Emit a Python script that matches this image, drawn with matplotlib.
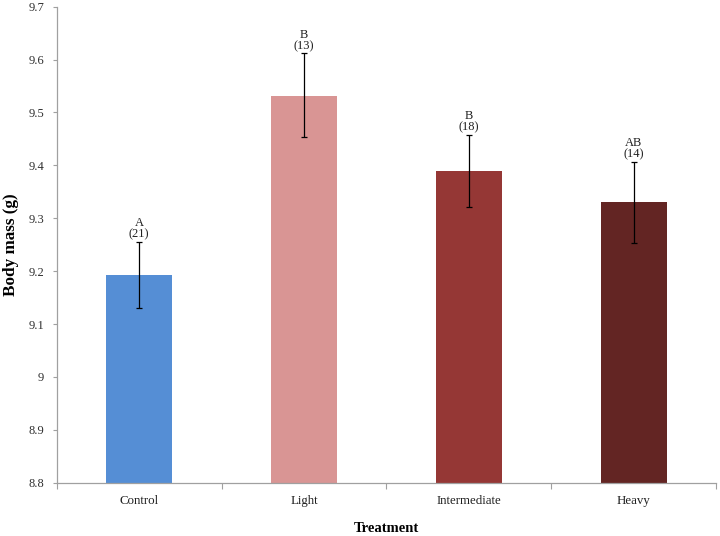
import matplotlib; matplotlib.use('Agg')
import matplotlib.pyplot as plt
import numpy as np

plt.rcParams['font.family'] = ['Liberation Serif', 'DejaVu Serif']

treatments = ['Control', 'Light', 'Intermediate', 'Heavy']
mass = [9.193, 9.532, 9.390, 9.330]
err_lo = [9.131, 9.453, 9.322, 9.254]
err_hi = [9.256, 9.612, 9.458, 9.407]
letters = ['A', 'B', 'B', 'AB']
n_birds = [21, 13, 18, 14]
colors = ['#558ED5', '#D99594', '#953735', '#632523']
yticks = [8.8, 8.9, 9.0, 9.1, 9.2, 9.3, 9.4, 9.5, 9.6, 9.7]

fig = plt.figure(figsize=(7.2, 5.36), dpi=100)
ax = fig.add_axes([0.0788, 0.0994, 0.9156, 0.8881])

x = np.arange(len(treatments))
mass_a = np.array(mass)
yerr = [mass_a - np.array(err_lo), np.array(err_hi) - mass_a]

ax.bar(x, mass, width=0.4, color=colors, zorder=2)
ax.errorbar(x, mass, yerr=yerr, fmt='none', ecolor='black', elinewidth=0.9,
            capsize=2, capthick=0.9, zorder=3)

for xi, top, let, n in zip(x, err_hi, letters, n_birds):
    ax.text(xi, top + 0.002, f'{let}\n({n})', ha='center', va='bottom',
            fontsize=9, linespacing=0.92, color='#202020')

ax.set_xlim(-0.5, len(treatments) - 0.5)
ax.set_ylim(8.8, 9.7)
ax.set_yticks(yticks)
ax.set_yticklabels([f'{v:g}' for v in yticks])
ax.set_xticks(x)
ax.set_xticklabels(treatments)
ax.set_xticks(np.arange(-0.5, len(treatments)), minor=True)
ax.tick_params(axis='x', which='major', length=0, pad=9, labelsize=9.3, labelcolor='#202020')
ax.tick_params(axis='x', which='minor', length=4, color='#A0A0A0', width=0.8)
ax.tick_params(axis='y', length=3, color='#A0A0A0', width=0.8, pad=6,
               labelsize=9, labelcolor='#303030')

for s in ['top', 'right']:
    ax.spines[s].set_visible(False)
for s in ['left', 'bottom']:
    ax.spines[s].set_color('#A0A0A0')
    ax.spines[s].set_linewidth(0.9)

ax.set_xlabel('Treatment', fontsize=10.5, fontweight='bold')
ax.xaxis.set_label_coords(0.5, -0.082)
ax.set_ylabel('Body mass (g)', fontsize=12.3, fontweight='bold', va='center')
ax.yaxis.set_label_coords(-0.069, 0.5)

fig.savefig('out.png', dpi=100)
